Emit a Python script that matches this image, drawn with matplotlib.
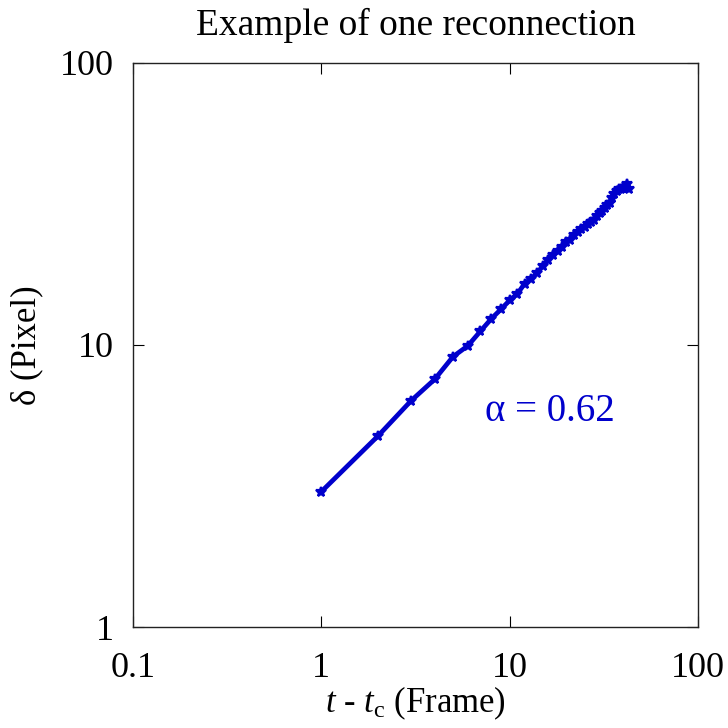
import matplotlib
matplotlib.use("Agg")
import matplotlib.pyplot as plt
import matplotlib.ticker as mticker

# ── Data: separation vs. time since reconnection ────────────────────────────
frames = list(range(1, 44))
delta_px = [
    3.02, 4.76, 6.35, 7.56, 9.09, 9.94, 11.2, 12.4, 13.4, 14.4,
    15.2, 16.5, 17.2, 18.0, 19.1, 20.0, 20.8, 21.6, 22.3, 23.2,
    23.6, 24.5, 25.2, 25.8, 26.2, 26.9, 27.3, 27.8, 28.6, 29.3,
    29.9, 30.6, 31.3, 32.0, 33.3, 34.2, 35.2, 35.6, 35.8, 36.0,
    36.2, 37.3, 35.6,
]
alpha_fit = 0.62

x_ticks = [0.1, 1, 10, 100]
y_ticks = [1, 10, 100]

BLUE = "#0000cc"

plt.rcParams["font.family"] = ["Liberation Serif", "DejaVu Serif"]
plt.rcParams["mathtext.fontset"] = "custom"
plt.rcParams["mathtext.rm"] = "Liberation Serif"
plt.rcParams["mathtext.it"] = "Liberation Serif:italic"

fig = plt.figure(figsize=(7.28, 7.28), dpi=100)
ax = fig.add_axes([0.1827, 0.1387, 0.9588 - 0.1827, 0.9135 - 0.1387])

ax.plot(frames, delta_px, color=BLUE, linewidth=3.4, marker="*",
        markersize=7, markeredgewidth=1.6)

ax.set_xscale("log")
ax.set_yscale("log")
ax.set_xlim(0.1, 100)
ax.set_ylim(1, 100)

ax.xaxis.set_major_locator(mticker.FixedLocator(x_ticks))
ax.yaxis.set_major_locator(mticker.FixedLocator(y_ticks))
ax.xaxis.set_minor_locator(mticker.NullLocator())
ax.yaxis.set_minor_locator(mticker.NullLocator())
ax.set_xticklabels([f"{v:g}" for v in x_ticks])
ax.set_yticklabels([f"{v:g}" for v in y_ticks])

ax.tick_params(direction="in", length=8, width=0.8, top=True, right=True,
               labelsize=26)
ax.tick_params(axis="x", pad=18)
ax.tick_params(axis="y", pad=14)
for sp in ax.spines.values():
    sp.set_linewidth(1.0)
    sp.set_color("#222222")

ax.set_title("Example of one reconnection", fontsize=27, pad=20)
ax.set_xlabel(r"$t$ - $t_{\mathrm{c}}$ (Frame)", fontsize=25, labelpad=0)
ax.set_ylabel("δ (Pixel)", fontsize=25, labelpad=12)

ax.text(16.4, 5.8, f"α = {alpha_fit:.2f}", color=BLUE, fontsize=28,
        ha="center", va="center")

fig.savefig("out.png", dpi=100)
